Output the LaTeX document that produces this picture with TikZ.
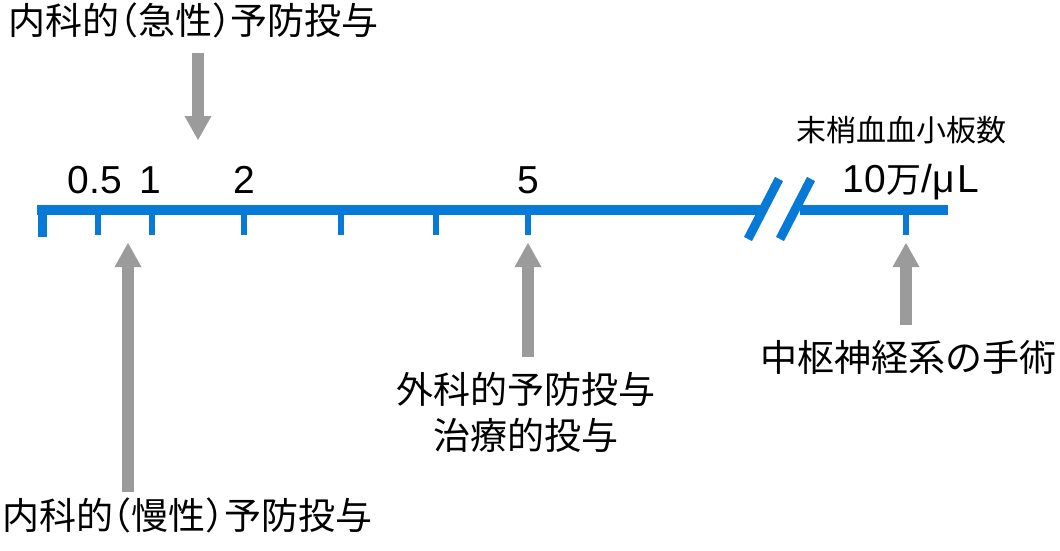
\documentclass[tikz,border=0pt]{standalone}
\usepackage{fontspec}
\setmainfont{Liberation Sans}
\newfontfamily\cjk{Noto Sans CJK JP}
\newfontfamily\cjkhalf{Noto Sans CJK JP}[RawFeature=+halt]
\usetikzlibrary{arrows.meta}
\definecolor{axisblue}{HTML}{0779D6}
\definecolor{arrowgray}{HTML}{9B9B9B}

\begin{document}
\begin{tikzpicture}[x=1pt,y=-1pt,
  axisline/.style={axisblue,line width=10pt},
  tickline/.style={axisblue,line width=5.5pt},
  breakline/.style={axisblue,line width=9pt},
  grayarrow/.style={arrowgray,line width=12pt,shorten <=15pt,
    -{Triangle[width=27pt,length=24pt,line width=0pt]}},
  num/.style={font=\fontsize{39}{39}\selectfont,inner sep=0pt,anchor=base},
  jptext/.style={font=\fontsize{37}{46}\selectfont\cjk,inner sep=0pt,align=center}]
\useasboundingbox (0,0) rectangle (1060,551);
% axis with a break
\draw[axisline] (37,210) -- (763,210);
\draw[axisline] (800,210) -- (948,210);
\draw[breakline] (42,205) -- (42,237);
\draw[breakline] (748,239) -- (779,179);
\draw[breakline] (780,239) -- (811,179);
\foreach \x/\n in {98/t05,152/t1,244/t2,341/t3,436/t4,528/t5,906/t10}
  \draw[tickline] (\x,210) -- (\x,235) coordinate (\n);
% scale labels
\node[num] (n05) at (95,193) {0.5};
\node[num] (n1) at (150,193) {1};
\node[num] (n2) at (244,193) {2};
\node[num] (n5) at (528,193) {5};
\node[num] (n10) at (911,192) {10{\cjk\fontsize{35}{35}\selectfont 万}/μ\kern3pt L};
\node[jptext,font=\fontsize{30}{30}\selectfont\cjk] (plt) at (901,130) {末梢血血小板数};
% indications
\node[jptext] (acute) at (194,20) {内科的{\cjkhalf （}急性{\cjkhalf ）}予防投与};
\node[jptext] (chronic) at (187,515) {内科的{\cjkhalf （}慢性{\cjkhalf ）}予防投与};
\node[jptext] (surg) at (526,412) {外科的予防投与\\治療的投与};
\node[jptext] (cns) at (908,357) {中枢神経系の手術};
\coordinate (acuteTip) at (198,140);
\coordinate (chronicTip) at (128,243);
\draw[grayarrow] (acute.south -| acuteTip) -- (acuteTip);
\draw[grayarrow,shorten <=5pt] (chronic.north -| chronicTip) -- (chronicTip);
\draw[grayarrow,shorten >=8pt] (surg.north -| t5) -- (t5);
\draw[grayarrow,shorten >=8pt] (cns.north -| t10) -- (t10);
\end{tikzpicture}
\end{document}
